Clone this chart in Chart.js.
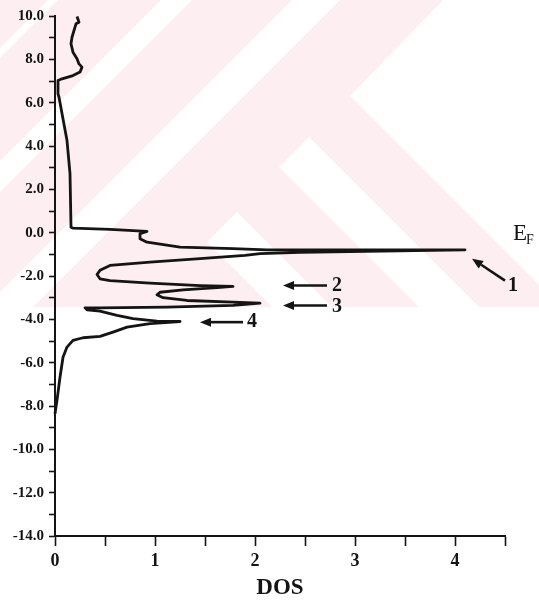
<!DOCTYPE html>
<html>
<head>
<meta charset="utf-8">
<title>DOS</title>
<script src="https://cdn.jsdelivr.net/npm/chart.js@4.4.1/dist/chart.umd.min.js"></script>
<style>
  html, body { margin: 0; padding: 0; background: #fff; }
</style>
</head>
<body>
<canvas id="dosChart" width="539" height="605"></canvas>
<script>
// Density of states (x = DOS, y = energy)
const dosValues = [
    0.22, 0.24, 0.21, 0.19, 0.17, 0.16, 0.18, 0.22, 0.24, 0.27,
    0.25, 0.18, 0.07, 0.03, 0.03, 0.04, 0.12, 0.15, 0.16, 0.18,
    0.55, 0.92, 0.85, 0.85, 0.92, 1.25, 1.78, 2.12, 4.10, 2.45,
    2.05, 1.90, 1.45, 0.95, 0.55, 0.45, 0.42, 0.45, 0.55, 0.95,
    1.45, 1.78, 1.62, 1.28, 1.05, 1.02, 1.08, 1.32, 1.78, 2.05,
    1.78, 1.12, 0.45, 0.30, 0.32, 0.45, 0.62, 0.78, 1.02, 1.25,
    0.95, 0.72, 0.58, 0.45, 0.28, 0.18, 0.12, 0.08, 0.05, 0.02,
    0.00
];
const energyValues = [
    9.98, 9.71, 9.64, 9.33, 9.02, 8.72, 8.33, 8.03, 7.79, 7.64,
    7.41, 7.25, 7.10, 7.02, 6.41, 6.25, 4.25, 2.73, 0.25, 0.21,
    0.15, 0.06, -0.05, -0.28, -0.44, -0.67, -0.74, -0.79, -0.79, -0.91,
    -0.97, -1.05, -1.20, -1.36, -1.51, -1.74, -1.93, -2.13, -2.21, -2.33,
    -2.44, -2.48, -2.54, -2.64, -2.75, -2.87, -3.00, -3.13, -3.21, -3.25,
    -3.36, -3.44, -3.47, -3.47, -3.56, -3.62, -3.82, -3.97, -4.08, -4.10,
    -4.20, -4.36, -4.59, -4.79, -4.85, -4.97, -5.28, -5.75, -6.67, -7.74,
    -8.36
];

// tick labels
const dosTicks = [0, 1, 2, 3, 4];
const energyTicks = [10, 8, 6, 4, 2, 0, -2, -4, -6, -8, -10, -12, -14];

// numbered peak arrows (data units): label, arrow tail, arrow head, label spot
const peakLabels = ['1', '2', '3', '4'];
const peakArrows = [
    { tail: [4.50, -2.21], head: [4.17, -1.20], text: [4.58, -2.44] },
    { tail: [2.72, -2.44], head: [2.28, -2.44], text: [2.82, -2.44] },
    { tail: [2.72, -3.36], head: [2.28, -3.36], text: [2.82, -3.44] },
    { tail: [1.88, -4.13], head: [1.45, -4.13], text: [1.97, -4.13] }
];
const fermiLabel = { main: 'E', sub: 'F', at: [4.65, -0.08] };

const serif = "'Liberation Serif', 'Times New Roman', serif";
const ink = '#141414';

// faint pink watermark behind the upper part of the plot
const watermark = {
    id: 'watermark',
    beforeDraw(chart) {
        const ctx = chart.ctx;
        const poly = pts => {
            ctx.beginPath();
            pts.forEach((p, i) => i ? ctx.lineTo(p[0], p[1]) : ctx.moveTo(p[0], p[1]));
            ctx.closePath();
            ctx.fill();
        };
        ctx.save();
        ctx.fillStyle = '#fdeef1';
        ctx.fillRect(0, 0, chart.width, 307);
        ctx.fillStyle = '#ffffff';
        [[48, 58], [161, 192], [292, 340]].forEach(b => {
            poly([[b[0], 0], [b[1], 0], [b[1] - 307, 307], [b[0] - 307, 307]]);
        });
        poly([[443, 0], [539, 0], [539, 285], [350, 96]]);
        poly([[309, 137], [479, 307], [419, 307], [279, 167]]);
        poly([[237, 212], [332, 307], [272, 307], [207, 242]]);
        ctx.restore();
    }
};

function drawArrow(ctx, x0, y0, x1, y1) {
    const ang = Math.atan2(y1 - y0, x1 - x0);
    const len = 11, half = 4.5;
    const bx = x1 - len * Math.cos(ang), by = y1 - len * Math.sin(ang);
    ctx.beginPath();
    ctx.moveTo(x0, y0);
    ctx.lineTo(bx, by);
    ctx.stroke();
    ctx.beginPath();
    ctx.moveTo(x1, y1);
    ctx.lineTo(bx + half * Math.sin(ang), by - half * Math.cos(ang));
    ctx.lineTo(bx - half * Math.sin(ang), by + half * Math.cos(ang));
    ctx.closePath();
    ctx.fill();
}

// peak arrows, numbers and the Fermi level label
const peakMarks = {
    id: 'peakMarks',
    afterDatasetsDraw(chart) {
        const ctx = chart.ctx;
        const xs = chart.scales.x, ys = chart.scales.y;
        const px = p => [xs.getPixelForValue(p[0]), ys.getPixelForValue(p[1])];
        ctx.save();
        ctx.strokeStyle = ink;
        ctx.fillStyle = ink;
        ctx.lineWidth = 2.6;
        ctx.font = 'bold 20px ' + serif;
        ctx.textAlign = 'center';
        ctx.textBaseline = 'middle';
        peakArrows.forEach((a, i) => {
            const t = px(a.tail), h = px(a.head), s = px(a.text);
            drawArrow(ctx, t[0], t[1], h[0], h[1]);
            ctx.fillText(peakLabels[i], s[0], s[1]);
        });
        const f = px(fermiLabel.at);
        ctx.font = '23px ' + serif;
        ctx.fillText(fermiLabel.main, f[0], f[1]);
        ctx.font = '14px ' + serif;
        ctx.fillText(fermiLabel.sub, f[0] + 10, f[1] + 6);
        ctx.restore();
    }
};

new Chart(document.getElementById('dosChart'), {
    type: 'scatter',
    data: {
        datasets: [{
            label: 'DOS',
            data: dosValues.map((v, i) => ({ x: v, y: energyValues[i] })),
            showLine: true,
            borderColor: ink,
            borderWidth: 2.8,
            borderJoinStyle: 'round',
            pointRadius: 0,
            tension: 0,
            fill: false,
            clip: false
        }]
    },
    options: {
        responsive: false,
        animation: false,
        layout: { padding: { top: 16, right: 34, bottom: 0, left: 0 } },
        plugins: {
            legend: { display: false },
            tooltip: { enabled: false }
        },
        scales: {
            x: {
                type: 'linear',
                min: 0,
                max: 4.5,
                afterFit: scale => { scale.height = 69; },
                border: { color: ink, width: 2 },
                grid: { drawOnChartArea: false, tickLength: 10, color: ink, tickWidth: 1.6 },
                ticks: {
                    stepSize: 0.5,
                    autoSkip: false,
                    maxRotation: 0,
                    padding: 5,
                    color: ink,
                    font: { family: serif, size: 18, weight: 'bold' },
                    callback: v => dosTicks.includes(v) ? String(v) : ''
                },
                title: {
                    display: true,
                    text: 'DOS',
                    color: ink,
                    font: { family: serif, size: 23, weight: 'bold' },
                    padding: { top: 0, bottom: 3 }
                }
            },
            y: {
                type: 'linear',
                min: -14,
                max: 10,
                afterFit: scale => { scale.width = 55; },
                border: { color: ink, width: 2 },
                grid: { drawOnChartArea: false, tickLength: 6, color: ink, tickWidth: 1.6 },
                ticks: {
                    stepSize: 1,
                    autoSkip: false,
                    padding: 5,
                    color: ink,
                    font: { family: serif, size: 15, weight: 'bold' },
                    callback: v => energyTicks.includes(v) ? v.toFixed(1) : ''
                }
            }
        }
    },
    plugins: [watermark, peakMarks]
});
</script>
</body>
</html>
